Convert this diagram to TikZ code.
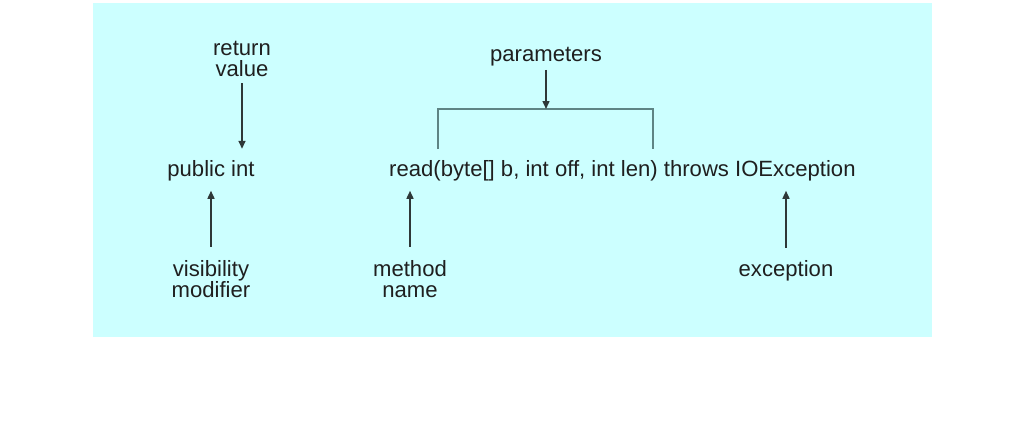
\documentclass[tikz,border=0pt]{standalone}
\usepackage{fontspec}
\setmainfont{Liberation Sans}
\usetikzlibrary{arrows.meta}
\definecolor{bgc}{HTML}{CCFFFF}
\definecolor{arrowc}{HTML}{2E3838}
\definecolor{brkc}{HTML}{5E8484}
\begin{document}
\begin{tikzpicture}[x=1pt,y=-1pt,
  lbl/.style={font=\fontsize{22.1}{21}\selectfont, inner sep=0pt, align=center, text=black!88},
  arr/.style={draw=arrowc, line width=1.5pt, -{Triangle[width=7pt,length=8pt]}},
  brk/.style={draw=brkc, line width=1.4pt}]
\useasboundingbox (0,0) rectangle (1024,420);
\fill[bgc] (93,3) rectangle (932,337);
% labels (base anchor = baseline of the last line)
\node[lbl, anchor=base] (ret) at (242,77) {return\\value};
\node[lbl, anchor=base] (par) at (546,62) {parameters};
\node[lbl, anchor=base] (pub) at (211,176) {public int};
\node[lbl, anchor=base west] (main) at (389,176) {read(byte{[]} b, int off, int len) throws IOException};
\node[lbl, anchor=base] (vis) at (211,297) {visibility\\modifier};
\node[lbl, anchor=base] (meth) at (410,297) {method\\name};
\node[lbl, anchor=base] (exc) at (786,276) {exception};
% bracket
\coordinate (bl) at (438,149);
\coordinate (bm) at (546,109);
\coordinate (br) at (653,149);
\draw[brk] (bl) |- (bm) -| (br);
% arrows
\draw[arr] ([yshift=-6pt]ret.south) -- ([yshift=11pt]ret.south |- pub.north);
\draw[arr] ([yshift=-3pt]par.south) -- (bm);
\draw[arr] ([yshift=13pt]vis.north) -- ([yshift=-10pt]pub.south);
\draw[arr] ([yshift=13pt]meth.north) -- ([yshift=-10pt]meth.north |- main.south);
\draw[arr] ([yshift=12pt]exc.north) -- ([yshift=-10pt]exc.north |- main.south);
\end{tikzpicture}
\end{document}
